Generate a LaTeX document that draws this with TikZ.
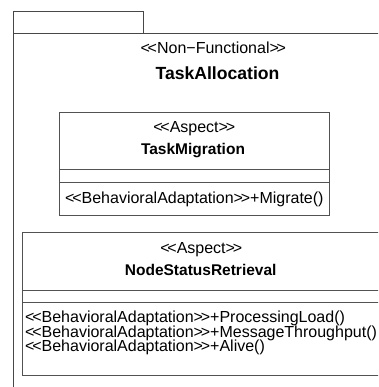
\documentclass[tikz,border=0pt]{standalone}
\usepackage{fontspec}
\setmainfont{Liberation Sans}
\newcommand{\stL}{<\kern-0.14em<}
\newcommand{\stR}{>\kern-0.14em>}
\begin{document}
\begin{tikzpicture}[x=1pt,y=-1pt,
  frameline/.style={draw=black!72, line width=0.9pt},
  boxline/.style={draw=black!68, line width=0.9pt},
  txt/.style={inner sep=0pt, anchor=base, font=\fontsize{16}{19}\selectfont},
  ttl/.style={inner sep=0pt, anchor=base, font=\fontsize{15.5}{18}\selectfont\bfseries},
  bigttl/.style={inner sep=0pt, anchor=base, font=\fontsize{17.6}{20}\selectfont\bfseries},
  meth/.style={inner sep=0pt, anchor=base west, font=\fontsize{16}{19}\selectfont}]
\useasboundingbox (0,0) rectangle (378,387);
\clip (0,0) rectangle (378,387);
% package frame
\draw[frameline] (13,11) rectangle (143,33);
\draw[frameline] (390,33) -- (13,33) -- (13,395);
\node[txt] (stereo) at (213.3,54) {\stL Non−Functional\stR};
\node[bigttl] (pkg) at (217.5,80) {TaskAllocation};
% TaskMigration class
\draw[boxline] (59,112) rectangle (329,215);
\draw[boxline] (59,169) -- (329,169);
\draw[boxline] (59,182) -- (329,182);
\node[txt] (asp1) at (194.2,132.7) {\stL Aspect\stR};
\node[ttl] (tm) at (193,154) {TaskMigration};
\node[meth] (m1) at (65,203) {\stL BehavioralAdaptation\stR+Migrate()};
% NodeStatusRetrieval class
\draw[boxline] (22,232) rectangle (395,375);
\draw[boxline] (22,290) -- (395,290);
\draw[boxline] (22,302.5) -- (395,302.5);
\node[txt] (asp2) at (201.2,253) {\stL Aspect\stR};
\node[ttl] (nsr) at (200.7,275) {NodeStatusRetrieval};
\node[meth] (n1) at (25,322.5) {\stL BehavioralAdaptation\stR+ProcessingLoad()};
\node[meth] (n2) at (25,337) {\stL BehavioralAdaptation\stR+MessageThroughput()};
\node[meth] (n3) at (25,351.5) {\stL BehavioralAdaptation\stR+Alive()};
\end{tikzpicture}
\end{document}
